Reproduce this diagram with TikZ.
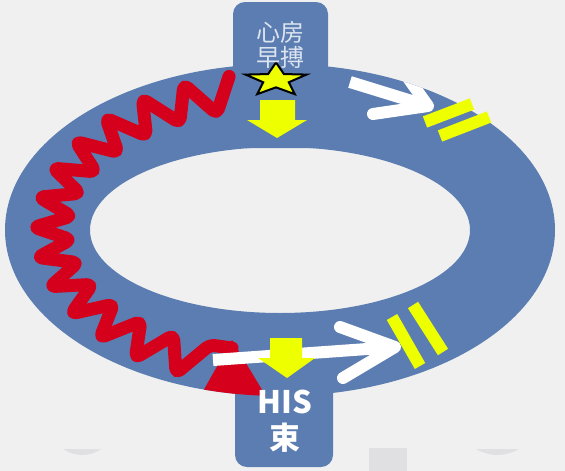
\documentclass[tikz,border=0pt]{standalone}
\usepackage{fontspec}
\newfontfamily\cjk{Noto Sans CJK SC}
\definecolor{bg}{RGB}{240,240,240}
\definecolor{ringblue}{RGB}{91,125,177}
\definecolor{zred}{RGB}{213,0,28}
\definecolor{yel}{RGB}{238,255,0}
\definecolor{toptext}{RGB}{220,228,240}
\definecolor{smudge}{RGB}{224,224,226}
\tikzset{
  ringfill/.style={fill=ringblue},
  boxfill/.style={fill=ringblue, rounded corners=12pt},
  zigzag/.style={draw=zred, line width=13pt, line join=round, line cap=round, rounded corners=5pt},
  whiteshaft/.style={draw=white, line width=12pt, line cap=butt},
  whitehead/.style={draw=white, line width=12pt, line cap=round, line join=round},
  yarrow/.style={fill=yel},
  ybar/.style={draw=yel, line width=12pt, line cap=butt},
  startext/.style={draw=black, line width=2pt, fill=yel, line join=miter},
}
\begin{document}
\begin{tikzpicture}[x=1pt,y=-1pt]
\fill[bg] (0,0) rectangle (565,471);
\useasboundingbox (0,0) rectangle (565,471);
% faint background shapes
\fill[smudge] (369,448) rectangle (407,471);
\fill[smudge] (63,449) .. controls (75,457) and (90,457) .. (101,449) -- cycle;
\fill[smudge] (476,449) .. controls (490,457) and (505,457) .. (519,449) -- cycle;
% ring
\fill[ringfill, even odd rule] (280,230) ellipse [x radius=275, y radius=166]
      (280,230) ellipse [x radius=190, y radius=83];
% boxes
\path[boxfill] (233,2) rectangle (328,148);
\path[boxfill] (235,313) rectangle (333,467);
% red zigzag wave
\begin{scope}
\clip (280,230) ellipse [x radius=275, y radius=166];
\coordinate (zs) at (229.1,76.4);
\coordinate (ze) at (232,348);
\draw[zigzag] (zs) \foreach \i in {1,...,27}{
   -- ({280+(228+18*(1-2*mod(\i,2)))*cos(102+5.5*\i)},
       {230-(140+18*(1-2*mod(\i,2)))*sin(102+5.5*\i)}) } -- (ze);
\fill[zred] (232,340) -- (202,393) -- (267,398) -- cycle;
\end{scope}
% white arrows
\begin{scope}
\clip (280,230) ellipse [x radius=275, y radius=166];
\coordinate (wt0) at (350,82);
\coordinate (wt1) at (428,106);
\coordinate (wta) at (401,68);
\coordinate (wtb) at (373,114);
\draw[whiteshaft] (wt0) -- (wt1);
\draw[whitehead] (wta) -- (wt1) -- (wtb);
\end{scope}
\coordinate (wb0) at (213,360);
\coordinate (wb1) at (395,347);
\coordinate (wba) at (340,327);
\coordinate (wbb) at (343,378);
\draw[whiteshaft] (wb0) -- (wb1);
\draw[whitehead] (wba) -- (wb1) -- (wbb);
% yellow down arrows
\fill[yarrow] (260,100) -- (295,100) -- (295,120) -- (307,120) -- (277,138)
   -- (247,120) -- (260,120) -- cycle;
\fill[yarrow] (270,338) -- (302,338) -- (302,358) -- (315,358) -- (287,378)
   -- (258,358) -- (270,358) -- cycle;
% star
\draw[startext] (276,62.5) \foreach \k in {1,...,9}{
   -- ({276+32*(1-0.58*mod(\k,2))*cos(90+36*\k)},
       {80-17.5*(1-0.58*mod(\k,2))*sin(90+36*\k)}) } -- cycle;
% yellow bars
\coordinate (ya1) at (425,122); \coordinate (ya2) at (472,104);
\coordinate (yb1) at (440,136); \coordinate (yb2) at (489,117);
\draw[ybar] (ya1) -- (ya2);
\draw[ybar] (yb1) -- (yb2);
\coordinate (yc1) at (392,317); \coordinate (yc2) at (420,366);
\coordinate (yd1) at (413,305); \coordinate (yd2) at (443,352);
\draw[ybar] (yc1) -- (yc2);
\draw[ybar] (yd1) -- (yd2);
% texts
\node[text=toptext, font=\cjk\fontsize{24}{25}\selectfont, inner sep=0pt] (xf) at (280,32) {心房};
\node[text=toptext, font=\cjk\fontsize{24}{25}\selectfont, inner sep=0pt] (zb) at (280,57) {早搏};
\node[text=white, font=\cjk\bfseries\fontsize{31}{34}\selectfont, inner sep=0pt] (his) at (285,402) {HIS};
\node[text=white, font=\cjk\bfseries\fontsize{31}{34}\selectfont, inner sep=0pt] (shu) at (285,438) {束};
\end{tikzpicture}
\end{document}
